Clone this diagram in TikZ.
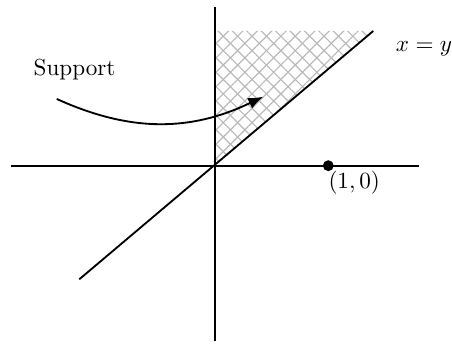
\documentclass[tikz,border=0pt]{standalone}
\usetikzlibrary{arrows.meta, patterns.meta}

\begin{document}
\begin{tikzpicture}[
    x=1.72cm, y=1.72cm,
    axis/.style={thick},
    hatchA/.style={pattern={Lines[angle=45, distance=4.4pt, line width=0.5pt]}, pattern color=gray!55},
    hatchB/.style={pattern={Lines[angle=-45, distance=4.4pt, line width=0.5pt]}, pattern color=gray!55},
    dot/.style={circle, fill=black, inner sep=0pt, minimum size=4.7pt},
    arrow/.style={-{Latex[length=6.5pt, width=5pt]}, thick}
]
\useasboundingbox (-1.898, -1.591) rectangle (2.092, 1.4625);

% === SUPPORT REGION ===
\fill[hatchA] (0, 0) -- (0, 1.189) -- (1.397, 1.189) -- cycle;
\fill[hatchB] (0, 0) -- (0, 1.189) -- (1.397, 1.189) -- cycle;

% Axes
\coordinate (xl) at (-1.80, 0);
\coordinate (xr) at (1.80, 0);
\coordinate (yb) at (0, -1.552);
\coordinate (yt) at (0, 1.403);
\draw[axis] (xl) -- (xr);
\draw[axis] (yb) -- (yt);

% Diagonal x = y
\coordinate (dlo) at (-1.198, -1.003);
\coordinate (dhi) at (1.397, 1.189);
\draw[axis] (dlo) -- (dhi);
\node (diag) at (1.845, 1.03) {$x = y$};

% Point (1,0)
\node[dot] (one) at (1, 0) {};
\node (onelbl) at (1.229, -0.148) {$(1,0)$};

% Support label and arrow
\node (supp) at (-1.24, 0.845) {Support};
\coordinate (astart) at (-1.397, 0.589);
\coordinate (aend) at (0.426, 0.609);
\draw[arrow] (astart) to[bend right=25] (aend);

\end{tikzpicture}
\end{document}
